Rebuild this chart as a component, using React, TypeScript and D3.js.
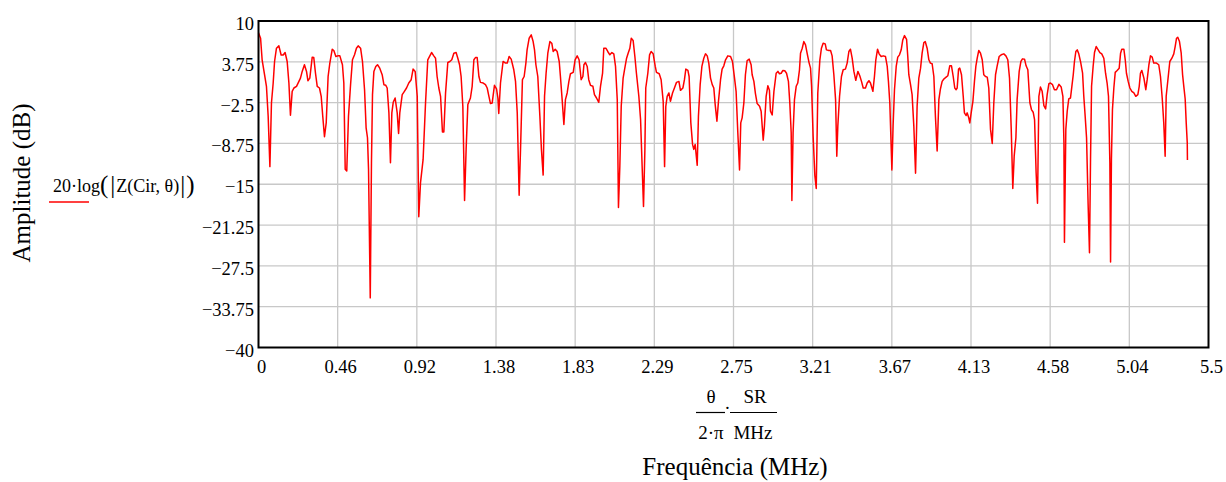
import React from "react";
import * as d3 from "d3";

// Frequency (MHz) and amplitude (dB)
const freq: number[] = [
  0.000, 0.012, 0.021, 0.035, 0.046, 0.056, 0.066, 0.075, 0.085, 0.093, 0.104, 0.118, 0.131, 0.143, 0.154, 0.166, 0.176, 0.185, 0.195, 0.205,
  0.220, 0.234, 0.243, 0.253, 0.266, 0.278, 0.286, 0.297, 0.311, 0.320, 0.330, 0.340, 0.353, 0.363, 0.372, 0.382, 0.392, 0.403, 0.413, 0.427,
  0.436, 0.448, 0.459, 0.471, 0.486, 0.494, 0.502, 0.511, 0.521, 0.533, 0.544, 0.556, 0.567, 0.577, 0.591, 0.602, 0.614, 0.623, 0.631, 0.637,
  0.647, 0.654, 0.660, 0.668, 0.679, 0.689, 0.702, 0.716, 0.726, 0.737, 0.745, 0.755, 0.764, 0.772, 0.780, 0.791, 0.803, 0.811, 0.818, 0.832,
  0.841, 0.857, 0.870, 0.884, 0.895, 0.907, 0.919,
  0.928, 0.938, 0.953, 0.967, 0.980, 0.992, 1.002, 1.015, 1.025, 1.034, 1.044, 1.054, 1.065, 1.073, 1.083, 1.096, 1.108, 1.119, 1.131, 1.144,
  1.154, 1.164, 1.173, 1.183, 1.193, 1.202, 1.212, 1.227, 1.237, 1.247, 1.256, 1.266, 1.276, 1.285, 1.301, 1.314, 1.324, 1.334, 1.343, 1.353,
  1.366, 1.378, 1.386, 1.391, 1.401, 1.416, 1.430, 1.440, 1.451, 1.463, 1.478, 1.488, 1.498, 1.509, 1.517, 1.528, 1.538, 1.548, 1.555, 1.567,
  1.579, 1.590, 1.598, 1.606, 1.617, 1.629, 1.638, 1.648, 1.656, 1.665, 1.675, 1.687, 1.698, 1.706, 1.718, 1.729, 1.741, 1.748, 1.758, 1.768,
  1.777, 1.787, 1.797, 1.806, 1.822, 1.833, 1.845, 1.856,
  1.868, 1.878, 1.884, 1.893, 1.903, 1.912, 1.922, 1.936, 1.945, 1.957, 1.970, 1.980, 1.992, 1.999, 2.011, 2.022, 2.034, 2.046, 2.057, 2.067,
  2.077, 2.084, 2.092, 2.100, 2.111, 2.119, 2.131, 2.140, 2.150, 2.158, 2.169, 2.179, 2.188, 2.202, 2.212, 2.221, 2.229, 2.237, 2.242, 2.254,
  2.264, 2.273, 2.285, 2.297, 2.304, 2.320, 2.331, 2.343, 2.351, 2.358, 2.366, 2.376, 2.385, 2.397, 2.408, 2.420, 2.434, 2.443, 2.457, 2.466,
  2.474, 2.486, 2.493, 2.503, 2.513, 2.520, 2.528, 2.540, 2.547, 2.557, 2.567, 2.578, 2.588, 2.598, 2.607, 2.617, 2.627, 2.636, 2.644, 2.654,
  2.663, 2.675, 2.684, 2.694, 2.704, 2.717, 2.733, 2.744, 2.756, 2.765, 2.775,
  2.785, 2.792, 2.800, 2.810, 2.819, 2.829, 2.841, 2.852, 2.858, 2.868, 2.877, 2.887, 2.901, 2.910, 2.922, 2.929, 2.939, 2.949, 2.958, 2.964,
  2.974, 2.984, 2.997, 3.007, 3.016, 3.026, 3.036, 3.047, 3.057, 3.068, 3.076, 3.084, 3.088, 3.095, 3.103, 3.113, 3.122, 3.132, 3.138, 3.148,
  3.157, 3.167, 3.177, 3.188, 3.196, 3.202, 3.211, 3.221, 3.229, 3.238, 3.250, 3.259, 3.269, 3.281, 3.288, 3.302, 3.312, 3.321, 3.331, 3.341,
  3.348, 3.354, 3.364, 3.375, 3.385, 3.398, 3.408, 3.418, 3.427, 3.437, 3.447, 3.458, 3.470, 3.481, 3.491, 3.501, 3.514, 3.524, 3.534, 3.543,
  3.557, 3.566, 3.574, 3.584, 3.593, 3.605, 3.617, 3.630, 3.640, 3.647, 3.655, 3.667,
  3.674, 3.682, 3.692, 3.701, 3.711, 3.721, 3.730, 3.740, 3.752, 3.759, 3.765, 3.775, 3.784, 3.794, 3.804, 3.813, 3.823, 3.833, 3.842, 3.852,
  3.860, 3.871, 3.881, 3.890, 3.900, 3.910, 3.919, 3.929, 3.939, 3.948, 3.958, 3.968, 3.981, 3.991, 4.002, 4.012, 4.022, 4.031, 4.039, 4.045,
  4.053, 4.060, 4.070, 4.080, 4.087, 4.097, 4.103, 4.112, 4.118, 4.126, 4.136, 4.145, 4.153, 4.161, 4.170, 4.180, 4.190, 4.199, 4.209, 4.219,
  4.228, 4.238, 4.248, 4.257, 4.267, 4.276, 4.288, 4.300, 4.315, 4.327, 4.338, 4.348, 4.358, 4.367, 4.375, 4.385, 4.392, 4.404, 4.414, 4.423,
  4.435, 4.444, 4.454, 4.466, 4.475, 4.485, 4.493, 4.502, 4.510, 4.518, 4.527, 4.537, 4.547, 4.557, 4.566, 4.576, 4.585, 4.597, 4.608, 4.620,
  4.634,
  4.647, 4.657, 4.663, 4.666, 4.674, 4.682, 4.691, 4.701, 4.709, 4.717, 4.724, 4.732, 4.740, 4.749, 4.759, 4.771, 4.778, 4.786, 4.794, 4.803,
  4.811, 4.817, 4.823, 4.832, 4.840, 4.850, 4.859, 4.871, 4.882, 4.894, 4.904, 4.913, 4.921, 4.929, 4.933, 4.938, 4.944, 4.952, 4.960, 4.971,
  4.983, 4.991, 4.998, 5.010, 5.018, 5.025, 5.035, 5.045, 5.056, 5.068, 5.079, 5.091, 5.099, 5.106, 5.114, 5.126, 5.137, 5.145, 5.155, 5.164,
  5.174, 5.183, 5.199, 5.212, 5.222, 5.232, 5.241, 5.249, 5.255, 5.265, 5.276, 5.288, 5.299, 5.307, 5.315, 5.322, 5.332, 5.342, 5.350, 5.357,
  5.365, 5.371, 5.377, 5.378,
];

const amplitude: number[] = [
  8.2, 7.36, 4.06, 1.77, 0, -4.58, -12.3, -2.55, 0.5, 3.8, 5.83, 6.19, 4.8, 4.8, 5.17, 3.8, 0.5, -4.43, -0.77, -0.26,
  0, 0.75, 1.26, 2.28, 3.3, 2.28, 0.86, 1.26, 4.46, 4.4, 2.0, 0, -0.26, -1.53, -4.58, -7.73, -5.6, 1.5, 3.55, 5.68,
  5.48, 4.56, 4.66, 4.66, 3.3, 0.5, -12.7, -12.96, -4.58, 0.25, 4.06, 4.82, 5.83, 6.19, 5.83, 3.8, -0.52, -6.36, -7.88, -12.7,
  -32.4, -11.7, -1.28, 2.28, 3.04, 3.3, 2.78, 1.77, 0.25, 0.15, -0.26, -4.07, -11.7, -4.07, -2.45, -1.79, -4.07, -7.22, -4.07, -1.28,
  -0.92, -0.26, 0.5, 1.01, 2.63, 2.28, -1.53,
  -19.97, -14.74, -11.2, -2.55, 4.06, 4.66, 5.17, 4.66, 4.3, 1.5, -0.26, -1.53, -7.0, -7.0, -1.0, 3.65, 3.8, 4.06, 5.07, 5.17,
  4.3, 3.3, 1.5, -3.06, -17.5, -9.66, -2.8, -1.79, 0, 4.06, 4.4, 4.4, 1.5, 0.6, 0.5, 0.25, -0.26, -1.53, -2.65, -2.55,
  0.15, -0.41, -1.79, -4.17, 0.5, 3.8, 3.55, 3.55, 4.56, 4.16, 2.53, 0.75, -4.07, -16.67, -9.66, 1.01, 1.5, 3.55, 5.58, 7.36,
  7.87, 6.85, 5.58, 3.3, 1.5, -4.58, -9.66, -13.6, -1.53, 2.0, 5.07, 6.85, 6.6, 5.33, 5.68, 5.33, 3.8, 1.5, -2.04, -5.85,
  -2.04, -1.02, 0.75, 1.92, 2.13, 4.06, 4.66, 4.06,
  1.01, 1.5, 3.3, 3.65, 3.04, 1.01, 0.15, 0, -1.28, -1.79, -2.45, 0, 2.0, 5.83, 5.83, 5.33, 4.82, 5.17, 4.97, 3.04,
  -2.04, -18.55, -12.2, -3.06, 1.26, 2.53, 4.3, 5.07, 5.83, 7.36, 7.0, 4.56, 2.0, -1.53, -5.09, -12.2, -18.4, -9.66, -0.26, 2.0,
  4.82, 5.33, 4.97, 3.04, 2.13, 1.92, 1.01, -2.3, -12.3, -3.06, -1.53, -1.02, -2.3, -1.02, -0.26, 0.6, 0.75, -0.62, -0.26, 1.01,
  2.63, 2.43, 1.5, -5.6, -8.9, -9.66, -8.9, -12.1, -4.58, 0.25, 3.04, 4.3, 4.97, 4.66, 3.55, 1.26, 0.25, -0.26, -2.8, -5.34,
  -2.3, 1.01, 2.63, 3.14, 4.06, 4.66, 4.56, 3.8, 1.26, -0.77, -7.12,
  -12.8, -5.6, -4.83, -2.55, 1.77, 3.95, 4.16, 3.3, 1.77, 0.75, -1.12, -2.65, -3.06, -3.82, -8.24, -6.1, -1.53, 0.09, -0.62, -3.82,
  -4.38, -0.77, 2.0, 2.28, 1.92, 2.0, 2.43, 2.38, 2.0, 0.75, -2.55, -7.12, -17.5, -7.12, -2.04, 0, 0.5, 2.53, 5.07, 5.83,
  6.85, 6.34, 4.97, 3.55, 2.78, 0, -7.63, -13.7, -15.65, -1.02, 4.06, 5.83, 6.6, 6.5, 5.58, 5.48, 5.48, 4.66, 1.77, -2.04,
  -10.7, -6.1, -1.53, 1.5, 2.53, 2.63, 3.55, 5.33, 5.68, 4.3, 2.28, 0.91, 2.28, 1.62, 0.75, -0.26, -0.26, 0.5, 0.86, 0.5,
  -0.77, 1.5, 4.06, 5.68, 4.97, 4.56, 4.66, 4.56, 3.04, 0.75, -2.55, -12.8,
  -6.0, -0.52, 3.04, 4.46, 4.82, 5.58, 7.1, 7.76, 7.2, 4.56, 1.77, 0.25, -1.28, -6.1, -13.3, -3.06, 1.26, 2.78, 5.07, 6.7,
  6.85, 5.83, 4.06, 3.55, 3.45, 1.5, -4.58, -9.9, -2.04, -0.41, 0.75, 1.11, 1.41, 1.62, 3.14, 3.14, 1.5, -0.26, -0.52, -0.26,
  2.63, 2.78, 1.77, -1.53, -4.07, -4.48, -4.07, -4.83, -5.6, -4.07, -2.3, 0.75, 3.04, 4.3, 5.48, 5.07, 4.06, 1.77, 1.5, 1.41,
  -0.26, -6.6, -8.75, -2.55, 1.77, 3.04, 4.56, 4.82, 4.97, 4.66, 4.06, 1.26, -6.6, -15.65, -10.7, -7.88, -2.04, 2.28, 3.8, 4.2,
  4.16, 3.14, 2.53, -2.55, -3.56, -3.97, -5.09, -13.2, -17.9, -1.53, -0.11, -0.77, -2.96, -3.46, -1.28, 0.4, 0.5, 0.25, -0.52, -0.52,
  0.3,
  -0.1, -1.53, -8.64, -23.9, -6.6, -3.82, -1.94, -1.79, 0, 1.77, 3.8, 5.33, 5.58, 4.97, 3.8, 2.0, -1.53, -4.58, -7.88, -18.0,
  -25.5, -11.2, 0, 3.04, 5.17, 6.09, 5.68, 5.17, 4.97, 4.3, 2.0, 0.5, -1.53, -11.7, -26.9, -11.2, -3.56, -0.26, 2.13, 2.43,
  2.78, 5.07, 5.68, 5.68, 4.06, 2.0, 0.75, -0.26, -0.77, -1.02, -1.53, -1.28, 0, 2.0, 2.43, 1.26, -0.52, 1.01, 3.3, 4.66,
  4.46, 3.55, 3.55, 3.3, 1.5, -1.79, -5.6, -10.7, -1.53, 1.01, 3.8, 4.3, 4.97, 6.09, 7.36, 7.51, 6.85, 5.07, 1.77, 0,
  -1.94, -5.6, -8.64, -11.3,
];

const xTickLabels: string[] = ["0", "0.46", "0.92", "1.38", "1.83", "2.29", "2.75", "3.21", "3.67", "4.13", "4.58", "5.04", "5.5"];
const yTicks: number[] = [10, 3.75, -2.5, -8.75, -15, -21.25, -27.5, -33.75, -40];
const yTickLabels: string[] = ["10", "3.75", "\u22122.5", "\u22128.75", "\u221215", "\u221221.25", "\u221227.5", "\u221233.75", "\u221240"];

const X_MAX = 5.5;
const FONT = "'Liberation Serif', 'Times New Roman', serif";

export default function App() {
  const W = 1226, H = 482;
  const left = 258.5, right = 1208.5, top = 21, bottom = 347.5;
  const x = d3.scaleLinear().domain([0, X_MAX]).range([left, right]);
  const y = d3.scaleLinear().domain([-40, 10]).range([bottom, top]);
  const xTicks = xTickLabels.map((_, i) => (i * X_MAX) / (xTickLabels.length - 1));

  const pts: [number, number][] = freq.map((f, i) => [f, amplitude[i]]);
  const line = d3
    .line<[number, number]>()
    .x((d) => x(d[0]))
    .y((d) => y(d[1]));

  return (
    <svg
      width={W}
      height={H}
      style={{ position: "absolute", left: 0, top: 0, background: "#fff" }}
      fontFamily={FONT}
    >
      <rect x={0} y={0} width={W} height={H} fill="#fff" />
      {/* grid */}
      {xTicks.map((t, i) =>
        i > 0 && i < xTicks.length - 1 ? (
          <line key={"gx" + i} x1={x(t)} x2={x(t)} y1={top} y2={bottom} stroke="#c8c8c8" strokeWidth={1.3} />
        ) : null
      )}
      {yTicks.map((t, i) =>
        i > 0 && i < yTicks.length - 1 ? (
          <line key={"gy" + i} x1={left} x2={right} y1={y(t)} y2={y(t)} stroke="#c8c8c8" strokeWidth={1.3} />
        ) : null
      )}
      {/* data */}
      <path d={line(pts) || ""} fill="none" stroke="#ff0000" strokeWidth={1.5} strokeLinejoin="round" />
      {/* frame */}
      <rect x={left} y={top} width={right - left} height={bottom - top} fill="none" stroke="#000" strokeWidth={2} />
      {/* y tick labels */}
      {yTicks.map((t, i) => (
        <text key={"yl" + i} x={254} y={y(t) + 9} textAnchor="end" fontSize={18.5} fill="#000">
          {yTickLabels[i]}
        </text>
      ))}
      {/* x tick labels */}
      {xTicks.map((t, i) => (
        <text key={"xl" + i} x={x(t) + 3} y={bottom + 25} textAnchor="middle" fontSize={18.5} fill="#000">
          {xTickLabels[i]}
        </text>
      ))}
      {/* y axis title */}
      <text
        transform={`translate(30,183) rotate(-90)`}
        textAnchor="middle"
        fontSize={25}
        fill="#000"
      >
        Amplitude (dB)
      </text>
      {/* trace expression */}
      <text x={53} y={192} fontSize={18} fill="#000">
        <tspan>20·log</tspan>
        <tspan fontSize={25} dy={1}>(</tspan>
        <tspan fontSize={25} dx={2}>|</tspan>
        <tspan fontSize={18} dy={-1} dx={1}>Z(Cir, θ)</tspan>
        <tspan fontSize={25} dy={1} dx={1}>|</tspan>
        <tspan fontSize={25} dx={1}>)</tspan>
      </text>
      <line x1={49} x2={89} y1={202} y2={202} stroke="#ff0000" strokeWidth={1.5} />
      {/* x axis expression */}
      <text x={711} y={403} textAnchor="middle" fontSize={19} fill="#000">θ</text>
      <line x1={696} x2={725} y1={412.5} y2={412.5} stroke="#000" strokeWidth={1.2} />
      <text x={711} y={439} textAnchor="middle" fontSize={19} fill="#000">2·π</text>
      <text x={727.5} y={414} textAnchor="middle" fontSize={19} fill="#000">·</text>
      <line x1={730} x2={777} y1={412.5} y2={412.5} stroke="#000" strokeWidth={1.2} />
      <text x={755} y={403} textAnchor="middle" fontSize={19} fill="#000">SR</text>
      <text x={753} y={439} textAnchor="middle" fontSize={19} fill="#000">MHz</text>
      {/* x axis title */}
      <text x={735} y={475} textAnchor="middle" fontSize={25} fill="#000">
        Frequência (MHz)
      </text>
    </svg>
  );
}
